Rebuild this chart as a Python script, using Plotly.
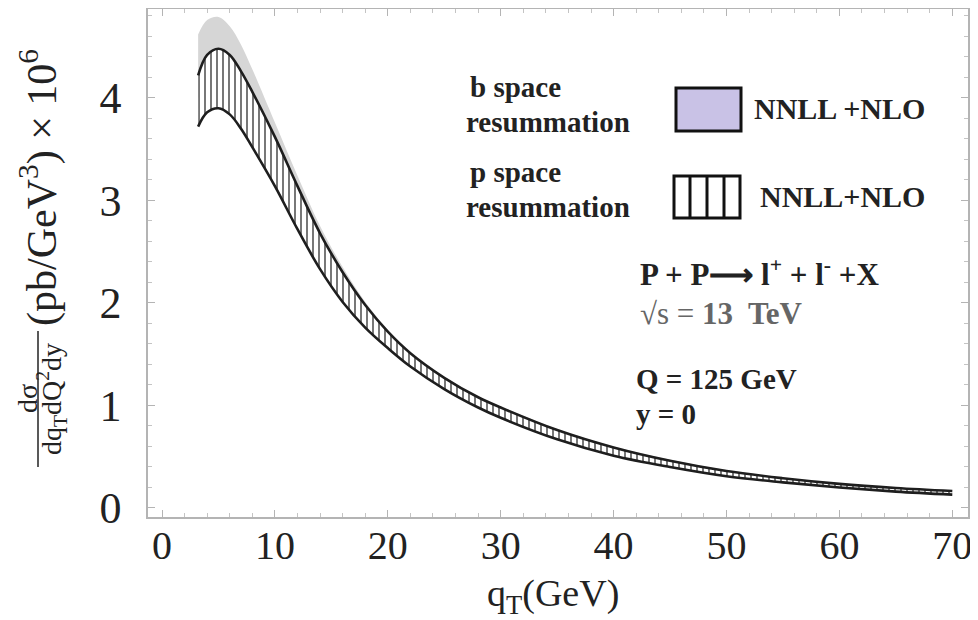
import plotly.graph_objects as go

# ---------------- data ----------------
qT = [3.2, 4, 5, 6, 7, 8, 10, 12, 14, 16, 18, 20, 22, 25, 28, 30, 35, 40, 45, 50, 55, 60, 65, 70]
p_upper = [4.22, 4.42, 4.48, 4.42, 4.26, 4.06, 3.62, 3.14, 2.68, 2.30, 1.98, 1.72, 1.51, 1.27, 1.08, 0.98, 0.76, 0.59, 0.46, 0.36, 0.29, 0.235, 0.195, 0.165]
p_lower = [3.72, 3.86, 3.90, 3.84, 3.70, 3.52, 3.14, 2.72, 2.33, 2.01, 1.76, 1.56, 1.38, 1.16, 0.98, 0.88, 0.67, 0.51, 0.40, 0.31, 0.25, 0.20, 0.16, 0.13]
b_upper = [4.62, 4.76, 4.79, 4.70, 4.52, 4.28, 3.76, 3.24, 2.75, 2.35, 2.01, 1.74, 1.52, 1.28, 1.09, 0.99, 0.77, 0.60, 0.47, 0.37, 0.295, 0.24, 0.20, 0.17]
b_lower = [4.00, 4.10, 4.15, 4.10, 3.95, 3.75, 3.36, 2.92, 2.48, 2.14, 1.86, 1.63, 1.44, 1.21, 1.03, 0.93, 0.71, 0.55, 0.43, 0.33, 0.27, 0.22, 0.18, 0.15]

x_ticks = [0, 10, 20, 30, 40, 50, 60, 70]
y_ticks = [0, 1, 2, 3, 4]

SERIF = "Liberation Serif, Times New Roman, serif"
OFF = 8  # page body margin
W, H = 978 - OFF, 620 - OFF
# plot area in reference pixels: x 148..968, y 9..517
L, R, T, B = 148 - OFF, 978 - 968, 9 - OFF, 620 - 517
PW, PH = 820, 508


def px(x):
    return (x - 148) / PW


def py(y):
    return (517 - y) / PH


fig = go.Figure()

# b-space band (grey)
fig.add_trace(go.Scatter(x=qT, y=b_lower, mode="lines", line=dict(width=0, color="rgba(0,0,0,0)", shape="spline"),
                         showlegend=False, hoverinfo="skip"))
fig.add_trace(go.Scatter(x=qT, y=b_upper, mode="lines", fill="tonexty", fillcolor="#d6d6d6",
                         line=dict(width=0, color="rgba(0,0,0,0)", shape="spline"), showlegend=False, hoverinfo="skip"))
# p-space band (hatched)
fig.add_trace(go.Scatter(x=qT, y=p_lower, mode="lines", line=dict(width=2.6, color="#1e1e1e", shape="spline"),
                         showlegend=False))
fig.add_trace(go.Scatter(x=qT, y=p_upper, mode="lines", fill="tonexty",
                         fillpattern=dict(shape="|", size=6, solidity=0.28, fgcolor="#5e5e5e",
                                          bgcolor="white", fillmode="replace"),
                         line=dict(width=2.6, color="#1e1e1e", shape="spline"), showlegend=False))

axis_common = dict(showline=True, linecolor="#b4b4b4", linewidth=1.5, mirror="ticks", ticks="inside",
                   ticklen=7, tickcolor="#b4b4b4", tickwidth=1, showgrid=False, zeroline=False)

fig.update_xaxes(range=[-1.24, 71.39], tickvals=x_ticks, ticktext=[str(v) for v in x_ticks],
                 minor=dict(dtick=2, ticks="inside", ticklen=4, tickcolor="#c4c4c4"),
                 ticklabelstandoff=-8, tickfont=dict(family=SERIF, size=40, color="#222"), **axis_common)
fig.update_yaxes(range=[-0.088, 4.868], tickvals=y_ticks, ticktext=[str(v) for v in y_ticks],
                 minor=dict(dtick=0.2, ticks="inside", ticklen=4, tickcolor="#c4c4c4"),
                 ticklabelstandoff=16, tickfont=dict(family=SERIF, size=44, color="#222"), **axis_common)

ann = []
# y-axis title pieces (rotated)
ann.append(dict(text="(pb/GeV<sup>3</sup>) × 10<sup>6</sup>", x=px(39), y=py(188), xref="paper", yref="paper",
                textangle=-90, showarrow=False, xanchor="center", yanchor="middle",
                font=dict(family=SERIF, size=42, color="#222")))
ann.append(dict(text="dσ", x=px(27), y=py(399), xref="paper", yref="paper",
                textangle=-90, showarrow=False, xanchor="center", yanchor="middle",
                font=dict(family=SERIF, size=28, color="#222")))
ann.append(dict(text="dq<sub>T</sub>dQ<sup>2</sup>dy", x=px(51), y=py(399), xref="paper", yref="paper",
                textangle=-90, showarrow=False, xanchor="center", yanchor="middle",
                font=dict(family=SERIF, size=28, color="#222")))
# x-axis title
ann.append(dict(text="q<sub>T</sub>(GeV)", x=px(553), y=py(596), xref="paper", yref="paper",
                showarrow=False, xanchor="center", yanchor="middle",
                font=dict(family=SERIF, size=38, color="#222")))


def label(text, x, y, size=30, color="#222", anchor="left"):
    ann.append(dict(text=text, x=px(x), y=py(y), xref="paper", yref="paper", showarrow=False,
                    xanchor=anchor, yanchor="middle", font=dict(family=SERIF, size=size, color=color)))


label("<b>b space</b>", 468, 87, size=29)
label("<b>resummation</b>", 464, 122, size=29)
label("<b>NNLL +NLO</b>", 752, 108)
label("<b>p space</b>", 468, 172, size=29)
label("<b>resummation</b>", 464, 207, size=29)
label("<b>NNLL+NLO</b>", 758, 196)
label("<b>P + P⟶ l<sup>+</sup> + l<sup>-</sup> +X</b>", 638, 272, size=31)
label("√s = <b>13  TeV</b>", 638, 313, size=31, color="#666")
label("<b>Q = 125 GeV</b>", 634, 379, size=29)
label("<b>y = 0</b>", 634, 414, size=29)

shapes = []
# fraction bar of y title
shapes.append(dict(type="line", xref="paper", yref="paper", x0=px(38), x1=px(38), y0=py(467), y1=py(331),
                   line=dict(color="#222", width=1.5)))
# legend boxes
shapes.append(dict(type="rect", xref="paper", yref="paper", x0=px(676), x1=px(741), y0=py(131), y1=py(88),
                   fillcolor="#c9c2e6", line=dict(color="#111", width=3)))
shapes.append(dict(type="rect", xref="paper", yref="paper", x0=px(674), x1=px(740), y0=py(218), y1=py(176),
                   fillcolor="white", line=dict(color="#111", width=3)))
for xv in (690, 707, 724):
    shapes.append(dict(type="line", xref="paper", yref="paper", x0=px(xv), x1=px(xv), y0=py(218), y1=py(176),
                       line=dict(color="#111", width=3)))

fig.update_layout(width=W, height=H, margin=dict(l=L, r=R, t=T, b=B, autoexpand=False),
                  plot_bgcolor="white", paper_bgcolor="white", annotations=ann, shapes=shapes,
                  showlegend=False)

fig.write_html("out.html")
